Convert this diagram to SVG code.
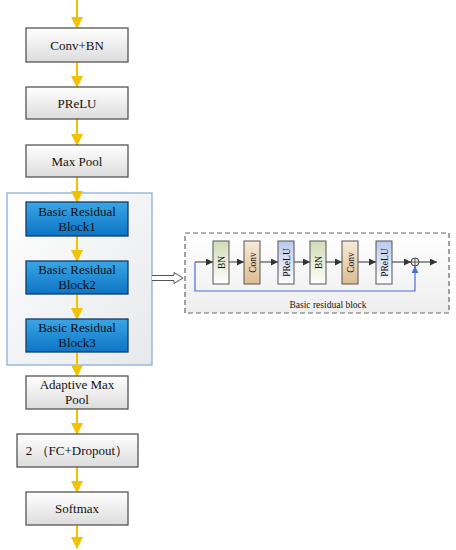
<svg xmlns="http://www.w3.org/2000/svg" width="456" height="550" viewBox="0 0 456 550">
<defs>
<linearGradient id="gGray" x1="0" y1="0" x2="0" y2="1"><stop offset="0" stop-color="#ffffff"/><stop offset="1" stop-color="#dcdcdc"/></linearGradient>
<linearGradient id="gBlue" x1="0" y1="0" x2="0" y2="1"><stop offset="0" stop-color="#3aa6e6"/><stop offset="1" stop-color="#0d74c4"/></linearGradient>
<linearGradient id="gCont" x1="0" y1="0" x2="1" y2="1"><stop offset="0" stop-color="#ffffff"/><stop offset="1" stop-color="#e6e8ea"/></linearGradient>
<linearGradient id="gDash" x1="0" y1="0" x2="0" y2="1"><stop offset="0" stop-color="#ffffff"/><stop offset="1" stop-color="#eeeeee"/></linearGradient>
<linearGradient id="gBN" x1="0" y1="0" x2="0" y2="1"><stop offset="0" stop-color="#d2dcb4"/><stop offset="1" stop-color="#ffffff"/></linearGradient>
<linearGradient id="gConv" x1="0" y1="0" x2="0" y2="1"><stop offset="0" stop-color="#f6ead8"/><stop offset="1" stop-color="#dcbc94"/></linearGradient>
<linearGradient id="gPR" x1="0" y1="0" x2="0" y2="1"><stop offset="0" stop-color="#b8c8ee"/><stop offset="1" stop-color="#ffffff"/></linearGradient>
<marker id="ay" markerUnits="userSpaceOnUse" markerWidth="12" markerHeight="12" viewBox="0 0 12 12" refX="11" refY="6" orient="auto"><path d="M0,0 L12,6 L0,12 Z" fill="#f2c200"/></marker>
<marker id="ad" markerUnits="userSpaceOnUse" markerWidth="7" markerHeight="7" viewBox="0 0 7 7" refX="7" refY="3.5" orient="auto"><path d="M0,0 L7,3.5 L0,7 Z" fill="#333"/></marker>
<marker id="ab" markerUnits="userSpaceOnUse" markerWidth="7" markerHeight="7" viewBox="0 0 7 7" refX="7" refY="3.5" orient="auto"><path d="M0,0 L7,3.5 L0,7 Z" fill="#4d6fd6"/></marker>
</defs>
<style>
.box{fill:url(#gGray);stroke:#555;stroke-width:1.3}
.rb{fill:url(#gBlue);stroke:#123a6a;stroke-width:1.3}
.t{font-family:"Liberation Serif","Times New Roman",serif;font-size:13px;fill:#111;text-anchor:middle}
.ts{font-family:"Liberation Serif","Times New Roman",serif;font-size:9.5px;fill:#111;text-anchor:middle}
.ya{stroke:#f2c200;stroke-width:2;fill:none;marker-end:url(#ay)}
.da{stroke:#333;stroke-width:1;fill:none;marker-end:url(#ad)}
.ib{stroke:#555;stroke-width:1}
</style>
<g id="container"><rect x="7" y="193" width="145" height="172" fill="url(#gCont)" stroke="#8ab0e0" stroke-width="1.3"/></g>
<g id="connectors">
<line class="ya" x1="77" y1="0" x2="77" y2="28"/>
<line class="ya" x1="77" y1="62" x2="77" y2="87"/>
<line class="ya" x1="77" y1="119" x2="77" y2="145"/>
<line class="ya" x1="77" y1="177" x2="77" y2="202"/>
<line class="ya" x1="77" y1="236" x2="77" y2="261"/>
<line class="ya" x1="77" y1="294" x2="77" y2="319"/>
<line class="ya" x1="77" y1="352" x2="77" y2="376"/>
<line class="ya" x1="77" y1="409" x2="77" y2="434"/>
<line class="ya" x1="77" y1="467" x2="77" y2="492"/>
<line class="ya" x1="77" y1="525" x2="77" y2="548"/>
<path d="M152,275.5 H174 V272.5 L183,278 L174,283.5 V280.5 H152" fill="#fff" stroke="#555" stroke-width="1"/>
</g>
<g id="conv-bn"><rect class="box" x="26" y="28" width="102" height="34"/><text class="t" x="77" y="50">Conv+BN</text></g>
<g id="prelu"><rect class="box" x="26" y="87" width="102" height="32"/><text class="t" x="77" y="108">PReLU</text></g>
<g id="maxpool"><rect class="box" x="26" y="145" width="102" height="32"/><text class="t" x="77" y="166">Max Pool</text></g>
<g id="block1"><rect class="rb" x="26" y="202" width="102" height="34"/><text class="t" x="77" y="216">Basic Residual</text><text class="t" x="77" y="231">Block1</text></g>
<g id="block2"><rect class="rb" x="26" y="261" width="102" height="33"/><text class="t" x="77" y="274">Basic Residual</text><text class="t" x="77" y="289">Block2</text></g>
<g id="block3"><rect class="rb" x="26" y="319" width="102" height="33"/><text class="t" x="77" y="332">Basic Residual</text><text class="t" x="77" y="347">Block3</text></g>
<g id="adaptive"><rect class="box" x="26" y="376" width="102" height="33"/><text class="t" x="77" y="389">Adaptive Max</text><text class="t" x="77" y="404">Pool</text></g>
<g id="fc"><rect class="box" x="17" y="434" width="121" height="33"/><text class="t" x="77" y="455">2 （FC+Dropout）</text></g>
<g id="softmax"><rect class="box" x="26" y="492" width="102" height="33"/><text class="t" x="77" y="513">Softmax</text></g>
<g id="basic-residual-block">
<rect x="185" y="233" width="264" height="80" fill="url(#gDash)" stroke="#666" stroke-width="1.2" stroke-dasharray="5,3"/>
<g id="inner-connectors">
<line class="da" x1="195" y1="262" x2="213" y2="262"/>
<line class="da" x1="229" y1="262" x2="244" y2="262"/>
<line class="da" x1="260" y1="262" x2="278" y2="262"/>
<line class="da" x1="294" y1="262" x2="310" y2="262"/>
<line class="da" x1="326" y1="262" x2="342" y2="262"/>
<line class="da" x1="358" y1="262" x2="376" y2="262"/>
<line class="da" x1="392" y1="262" x2="411" y2="262"/>
<line class="da" x1="419" y1="262" x2="437" y2="262"/>
<path d="M195,262 V291 H415 V266" fill="none" stroke="#4d6fd6" stroke-width="1.2" marker-end="url(#ab)"/>
</g>
<g id="bn1"><rect class="ib" x="213" y="241" width="16" height="43" fill="url(#gBN)"/><text class="ts" transform="translate(224.5,262.5) rotate(-90)">BN</text></g>
<g id="conv1"><rect class="ib" x="244" y="241" width="16" height="43" fill="url(#gConv)"/><text class="ts" transform="translate(255.5,262.5) rotate(-90)">Conv</text></g>
<g id="prelu1"><rect class="ib" x="278" y="241" width="16" height="43" fill="url(#gPR)"/><text class="ts" transform="translate(289.5,262.5) rotate(-90)">PReLU</text></g>
<g id="bn2"><rect class="ib" x="310" y="241" width="16" height="43" fill="url(#gBN)"/><text class="ts" transform="translate(321.5,262.5) rotate(-90)">BN</text></g>
<g id="conv2"><rect class="ib" x="342" y="241" width="16" height="43" fill="url(#gConv)"/><text class="ts" transform="translate(353.5,262.5) rotate(-90)">Conv</text></g>
<g id="prelu2"><rect class="ib" x="376" y="241" width="16" height="43" fill="url(#gPR)"/><text class="ts" transform="translate(387.5,262.5) rotate(-90)">PReLU</text></g>
<g id="add"><circle cx="415" cy="262" r="4" fill="#e4e4e4" stroke="#333" stroke-width="0.9"/><path d="M411,262 H419 M415,258 V266" stroke="#333" stroke-width="0.7"/></g>
<text class="ts" x="328" y="308">Basic residual block</text>
</g>
</svg>
